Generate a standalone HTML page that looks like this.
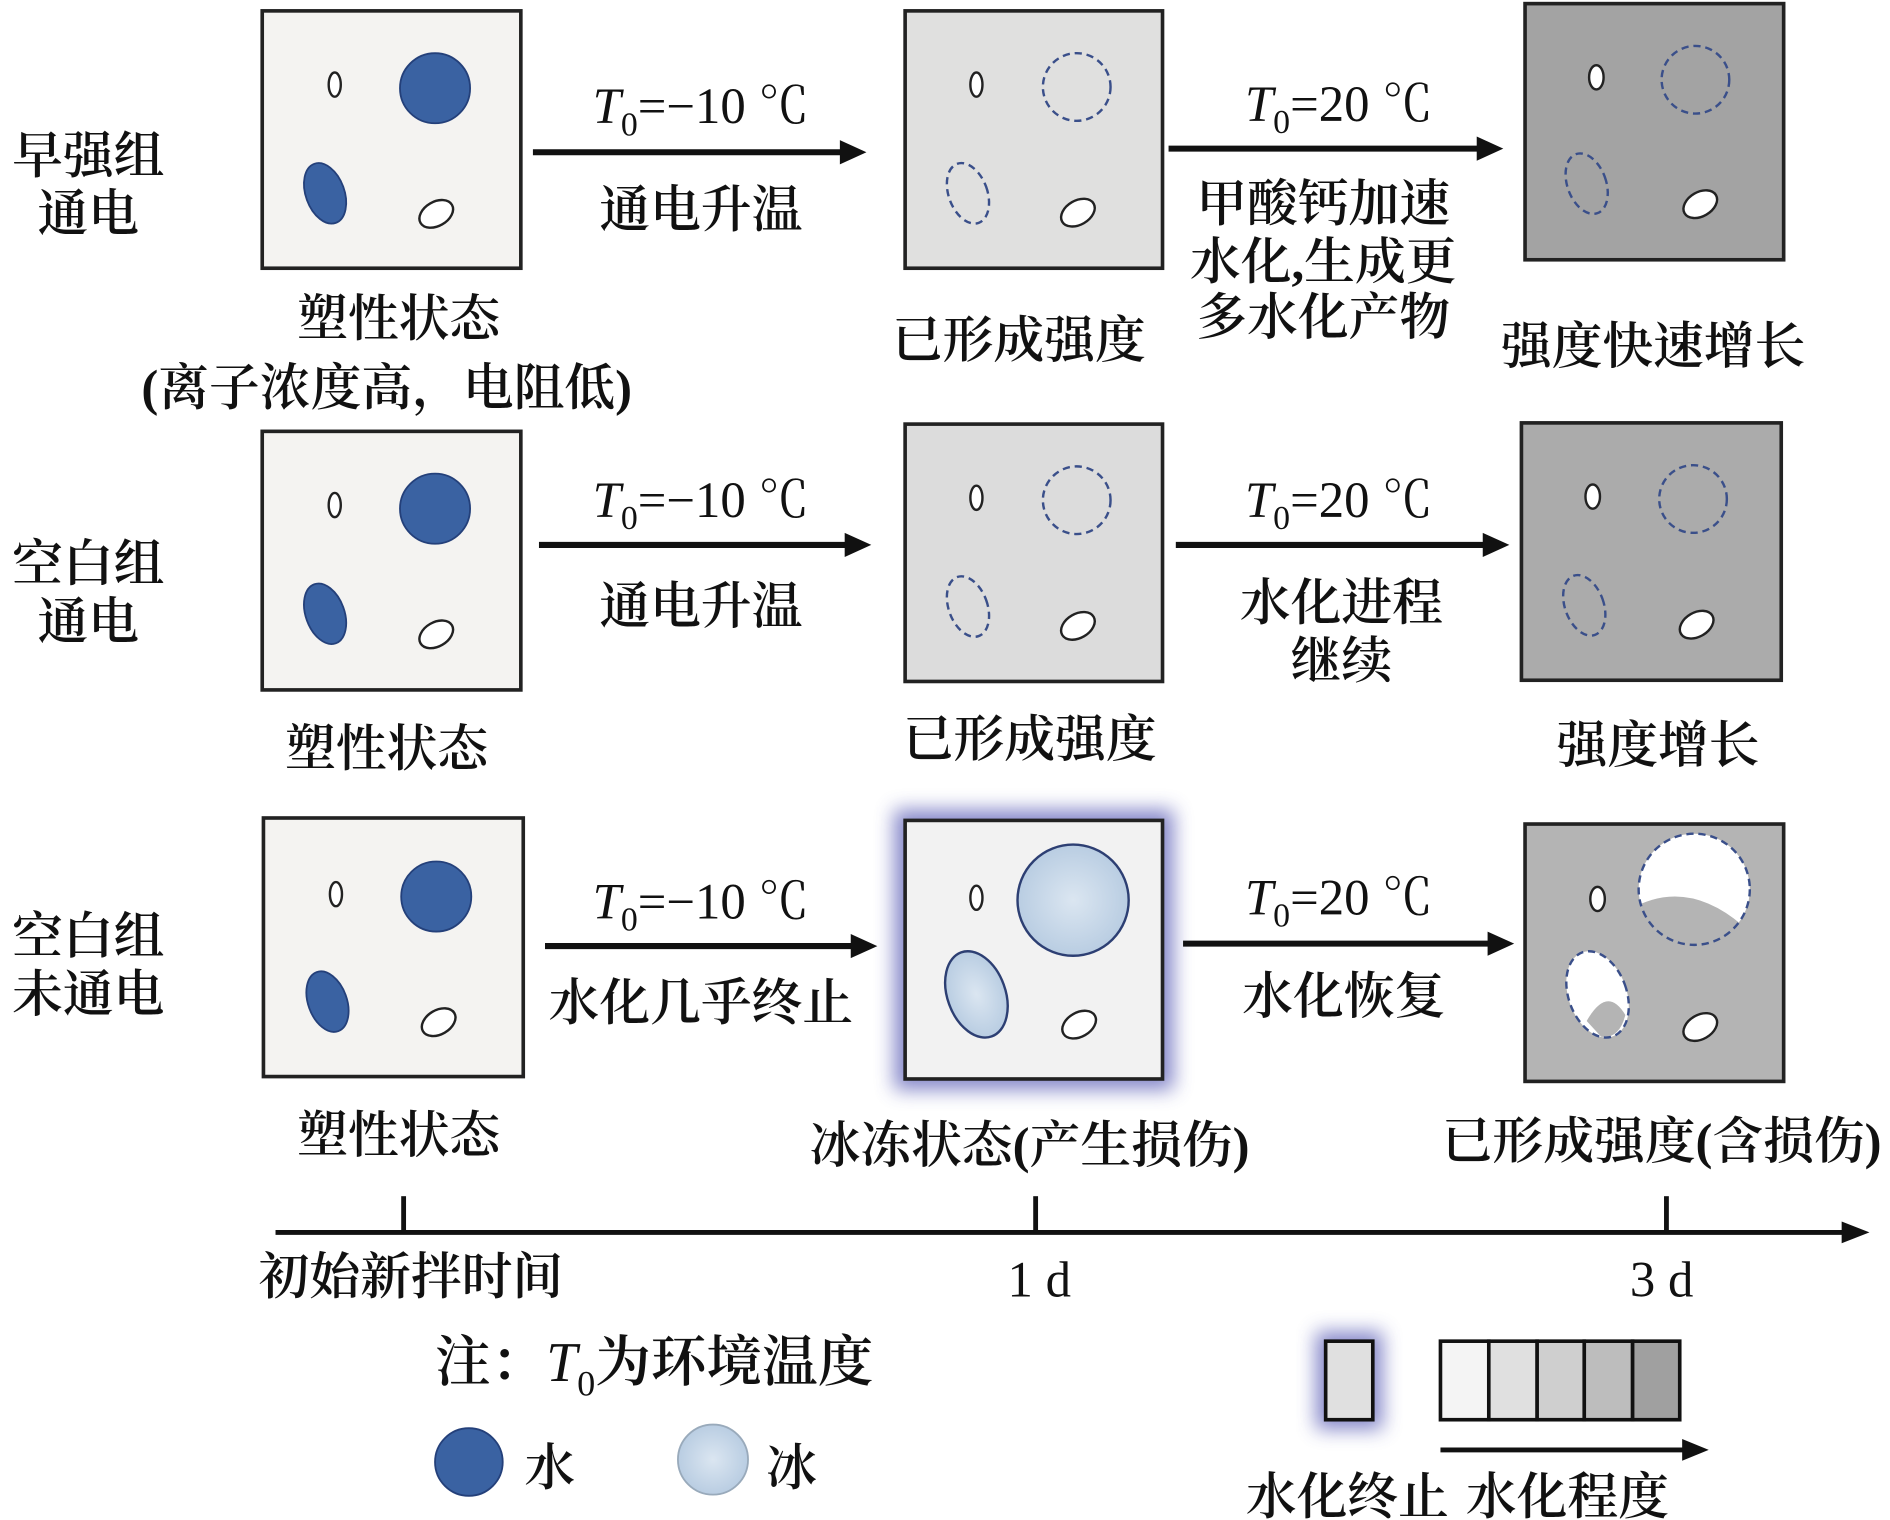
<!DOCTYPE html>
<html><head><meta charset="utf-8"><style>
html,body{margin:0;padding:0;background:#fff;}
svg{display:block;}
text{font-family:"Liberation Serif","Noto Serif CJK SC","Noto Sans CJK SC",serif;fill:#111;}
.c{font-weight:600;}
.n{font-weight:normal;}
</style></head><body>
<svg width="1890" height="1520" viewBox="0 0 1564 1258" preserveAspectRatio="none" xmlns="http://www.w3.org/2000/svg">
<defs>
<filter id="glow" x="-30%" y="-30%" width="160%" height="160%"><feGaussianBlur stdDeviation="8"/></filter>
<radialGradient id="ice"><stop offset="0" stop-color="#dbe6f1"/><stop offset="1" stop-color="#b9cde2"/></radialGradient>
</defs>
<g font-size="42" text-anchor="middle" class="c">
<text x="73" y="143">早强组</text><text x="73" y="191">通电</text>
<text x="73" y="481">空白组</text><text x="73" y="529">通电</text>
<text x="73" y="789">空白组</text><text x="73" y="837">未通电</text>

<!-- Row 1 -->
<rect x="217" y="9" width="214" height="213" fill="#f4f3f1" stroke="#222" stroke-width="3"/>
<ellipse cx="277" cy="70" rx="5" ry="10" fill="#fff" stroke="#222" stroke-width="2"/>
<circle cx="360" cy="73" r="29" fill="#3a62a2" stroke="#24407a" stroke-width="1.5"/>
<ellipse cx="269" cy="160" rx="16" ry="26" transform="rotate(-20 269 160)" fill="#3a62a2" stroke="#24407a" stroke-width="1.5"/>
<ellipse cx="361" cy="177" rx="15" ry="10" transform="rotate(-30 361 177)" fill="#fff" stroke="#222" stroke-width="2"/>

<rect x="749" y="9" width="213" height="213" fill="#e0e0df" stroke="#222" stroke-width="3"/>
<ellipse cx="808" cy="70" rx="5" ry="10" fill="#fff" stroke="#222" stroke-width="2"/>
<circle cx="891" cy="72" r="28" fill="none" stroke="#3a4f8a" stroke-width="2" stroke-dasharray="6,4"/>
<ellipse cx="801" cy="160" rx="16" ry="26" transform="rotate(-20 801 160)" fill="none" stroke="#3a4f8a" stroke-width="2" stroke-dasharray="6,4"/>
<ellipse cx="892" cy="176" rx="15" ry="10" transform="rotate(-30 892 176)" fill="#fff" stroke="#222" stroke-width="2"/>

<rect x="1262" y="3" width="214" height="212" fill="#a3a3a3" stroke="#222" stroke-width="3"/>
<ellipse cx="1321" cy="64" rx="6" ry="10" fill="#fff" stroke="#222" stroke-width="2"/>
<circle cx="1403" cy="66" r="28" fill="none" stroke="#3a4f8a" stroke-width="2" stroke-dasharray="6,4"/>
<ellipse cx="1313" cy="152" rx="16" ry="26" transform="rotate(-20 1313 152)" fill="none" stroke="#3a4f8a" stroke-width="2" stroke-dasharray="6,4"/>
<ellipse cx="1407" cy="169" rx="15" ry="10" transform="rotate(-30 1407 169)" fill="#fff" stroke="#222" stroke-width="2"/>

<line x1="441" y1="126" x2="698" y2="126" stroke="#111" stroke-width="5"/><polygon points="695,116 717,126 695,136" fill="#111"/>
<text x="580" y="102" class="n"><tspan font-style="italic">T</tspan><tspan font-size="28" dy="10">0</tspan><tspan dy="-10">=−10 ℃</tspan></text>
<text x="580" y="188">通电升温</text>
<line x1="967" y1="123" x2="1225" y2="123" stroke="#111" stroke-width="5"/><polygon points="1222,113 1244,123 1222,133" fill="#111"/>
<text x="1108" y="100" class="n"><tspan font-style="italic">T</tspan><tspan font-size="28" dy="10">0</tspan><tspan dy="-10">=20 ℃</tspan></text>
<text x="1095" y="183">甲酸钙加速</text><text x="1095" y="231">水化,生成更</text><text x="1095" y="277">多水化产物</text>
<text x="330" y="278">塑性状态</text>
<text x="320" y="335">(离子浓度高，电阻低)</text>
<text x="843" y="296">已形成强度</text>
<text x="1368" y="301">强度快速增长</text>

<!-- Row 2 -->
<rect x="217" y="357" width="214" height="214" fill="#f4f3f1" stroke="#222" stroke-width="3"/>
<ellipse cx="277" cy="418" rx="5" ry="10" fill="#fff" stroke="#222" stroke-width="2"/>
<circle cx="360" cy="421" r="29" fill="#3a62a2" stroke="#24407a" stroke-width="1.5"/>
<ellipse cx="269" cy="508" rx="16" ry="26" transform="rotate(-20 269 508)" fill="#3a62a2" stroke="#24407a" stroke-width="1.5"/>
<ellipse cx="361" cy="525" rx="15" ry="10" transform="rotate(-30 361 525)" fill="#fff" stroke="#222" stroke-width="2"/>

<rect x="749" y="351" width="213" height="213" fill="#dcdcdc" stroke="#222" stroke-width="3"/>
<ellipse cx="808" cy="412" rx="5" ry="10" fill="#fff" stroke="#222" stroke-width="2"/>
<circle cx="891" cy="414" r="28" fill="none" stroke="#3a4f8a" stroke-width="2" stroke-dasharray="6,4"/>
<ellipse cx="801" cy="502" rx="16" ry="26" transform="rotate(-20 801 502)" fill="none" stroke="#3a4f8a" stroke-width="2" stroke-dasharray="6,4"/>
<ellipse cx="892" cy="518" rx="15" ry="10" transform="rotate(-30 892 518)" fill="#fff" stroke="#222" stroke-width="2"/>

<rect x="1259" y="350" width="215" height="213" fill="#ababab" stroke="#222" stroke-width="3"/>
<ellipse cx="1318" cy="411" rx="6" ry="10" fill="#fff" stroke="#222" stroke-width="2"/>
<circle cx="1401" cy="413" r="28" fill="none" stroke="#3a4f8a" stroke-width="2" stroke-dasharray="6,4"/>
<ellipse cx="1311" cy="501" rx="16" ry="26" transform="rotate(-20 1311 501)" fill="none" stroke="#3a4f8a" stroke-width="2" stroke-dasharray="6,4"/>
<ellipse cx="1404" cy="517" rx="15" ry="10" transform="rotate(-30 1404 517)" fill="#fff" stroke="#222" stroke-width="2"/>

<line x1="446" y1="451" x2="702" y2="451" stroke="#111" stroke-width="5"/><polygon points="699,441 721,451 699,461" fill="#111"/>
<text x="580" y="428" class="n"><tspan font-style="italic">T</tspan><tspan font-size="28" dy="10">0</tspan><tspan dy="-10">=−10 ℃</tspan></text>
<text x="580" y="516">通电升温</text>
<line x1="973" y1="451" x2="1230" y2="451" stroke="#111" stroke-width="5"/><polygon points="1227,441 1249,451 1227,461" fill="#111"/>
<text x="1108" y="428" class="n"><tspan font-style="italic">T</tspan><tspan font-size="28" dy="10">0</tspan><tspan dy="-10">=20 ℃</tspan></text>
<text x="1110" y="513">水化进程</text><text x="1110" y="561">继续</text>
<text x="320" y="634">塑性状态</text>
<text x="852" y="626">已形成强度</text>
<text x="1372" y="631">强度增长</text>

<!-- Row 3 -->
<rect x="218" y="677" width="215" height="214" fill="#f4f3f1" stroke="#222" stroke-width="3"/>
<ellipse cx="278" cy="740" rx="5" ry="10" fill="#fff" stroke="#222" stroke-width="2"/>
<circle cx="361" cy="742" r="29" fill="#3a62a2" stroke="#24407a" stroke-width="1.5"/>
<ellipse cx="271" cy="829" rx="16" ry="26" transform="rotate(-20 271 829)" fill="#3a62a2" stroke="#24407a" stroke-width="1.5"/>
<ellipse cx="363" cy="846" rx="15" ry="10" transform="rotate(-30 363 846)" fill="#fff" stroke="#222" stroke-width="2"/>

<rect x="740" y="670" width="231" height="232" fill="#6f72c0" opacity="0.85" filter="url(#glow)"/>
<rect x="749" y="679" width="213" height="214" fill="#f2f2f2" stroke="#222" stroke-width="3"/>
<ellipse cx="808" cy="743" rx="5" ry="10" fill="#fff" stroke="#222" stroke-width="2"/>
<circle cx="888" cy="745" r="46" fill="url(#ice)" stroke="#2d3f73" stroke-width="2"/>
<ellipse cx="808" cy="823" rx="24" ry="37" transform="rotate(-20 808 823)" fill="url(#ice)" stroke="#2d3f73" stroke-width="2"/>
<ellipse cx="893" cy="848" rx="15" ry="10" transform="rotate(-30 893 848)" fill="#fff" stroke="#222" stroke-width="2"/>

<rect x="1262" y="682" width="214" height="213" fill="#b4b4b4" stroke="#222" stroke-width="3"/>
<ellipse cx="1322" cy="744" rx="6" ry="10" fill="#fff" stroke="#222" stroke-width="2"/>
<circle cx="1402" cy="736" r="46" fill="#fff"/>
<path d="M1358,748 Q1400,730 1442,766 A46,46 0 0 1 1358,748 Z" fill="#b4b4b4"/>
<circle cx="1402" cy="736" r="46" fill="none" stroke="#3a4f8a" stroke-width="2" stroke-dasharray="6,4"/>
<ellipse cx="1322" cy="823" rx="24" ry="37" transform="rotate(-20 1322 823)" fill="#fff"/>
<path d="M1313,845 Q1330,815 1345,840 Q1340,860 1325,858 Z" fill="#b4b4b4"/>
<ellipse cx="1322" cy="823" rx="24" ry="37" transform="rotate(-20 1322 823)" fill="none" stroke="#3a4f8a" stroke-width="2" stroke-dasharray="6,4"/>
<ellipse cx="1407" cy="850" rx="15" ry="10" transform="rotate(-30 1407 850)" fill="#fff" stroke="#222" stroke-width="2"/>

<line x1="451" y1="783" x2="707" y2="783" stroke="#111" stroke-width="5"/><polygon points="704,773 726,783 704,793" fill="#111"/>
<text x="580" y="760" class="n"><tspan font-style="italic">T</tspan><tspan font-size="28" dy="10">0</tspan><tspan dy="-10">=−10 ℃</tspan></text>
<text x="580" y="844">水化几乎终止</text>
<line x1="979" y1="781" x2="1234" y2="781" stroke="#111" stroke-width="5"/><polygon points="1231,771 1253,781 1231,791" fill="#111"/>
<text x="1108" y="757" class="n"><tspan font-style="italic">T</tspan><tspan font-size="28" dy="10">0</tspan><tspan dy="-10">=20 ℃</tspan></text>
<text x="1112" y="839">水化恢复</text>
<text x="330" y="954">塑性状态</text>
<text x="852" y="962">冰冻状态(产生损伤)</text>
<text x="1375" y="959">已形成强度(含损伤)</text>

<!-- Timeline -->
<line x1="228" y1="1020" x2="1528" y2="1020" stroke="#111" stroke-width="4"/><polygon points="1524,1011 1547,1020 1524,1029" fill="#111"/>
<line x1="334" y1="990" x2="334" y2="1020" stroke="#111" stroke-width="4"/>
<line x1="857" y1="990" x2="857" y2="1020" stroke="#111" stroke-width="4"/>
<line x1="1379" y1="990" x2="1379" y2="1020" stroke="#111" stroke-width="4"/>
<text x="340" y="1071">初始新拌时间</text>
<text x="860" y="1073" class="n">1 d</text>
<text x="1375" y="1073" class="n">3 d</text>

<!-- Legend -->
<text x="360" y="1143" text-anchor="start" font-size="46">注：<tspan font-style="italic" font-weight="normal">T</tspan><tspan font-size="30" dy="12" font-weight="normal">0</tspan><tspan dy="-12">为环境温度</tspan></text>
<circle cx="388" cy="1210" r="28" fill="#3a62a2" stroke="#24407a" stroke-width="1.5"/>
<text x="455" y="1229">水</text>
<circle cx="590" cy="1208" r="29" fill="url(#ice)" stroke="#9ab" stroke-width="1.5"/>
<text x="655" y="1229">冰</text>

<rect x="1089" y="1102" width="55" height="81" fill="#6f72c0" opacity="0.85" filter="url(#glow)"/>
<rect x="1097" y="1110" width="39" height="65" fill="#e0e0e0" stroke="#111" stroke-width="3"/>
<rect x="1192" y="1110" width="40" height="65" fill="#f4f4f4" stroke="#111" stroke-width="3"/>
<rect x="1232" y="1110" width="40" height="65" fill="#e0e0e0" stroke="#111" stroke-width="3"/>
<rect x="1272" y="1110" width="39" height="65" fill="#cfcfcf" stroke="#111" stroke-width="3"/>
<rect x="1311" y="1110" width="40" height="65" fill="#bdbdbd" stroke="#111" stroke-width="3"/>
<rect x="1351" y="1110" width="39" height="65" fill="#a0a0a0" stroke="#111" stroke-width="3"/>
<line x1="1192" y1="1200" x2="1395" y2="1200" stroke="#111" stroke-width="4"/><polygon points="1392,1191 1414,1200 1392,1209" fill="#111"/>
<text x="1115" y="1253">水化终止</text>
<text x="1297" y="1253">水化程度</text>
</g>
</svg>
</body></html>
